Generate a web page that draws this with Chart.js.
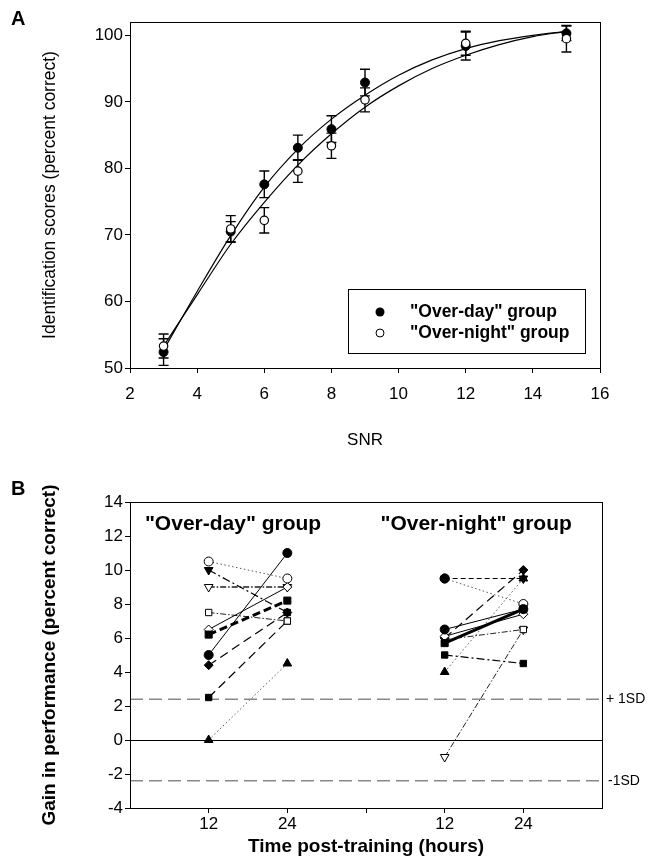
<!DOCTYPE html>
<html>
<head>
<meta charset="utf-8">
<script src="https://cdn.jsdelivr.net/npm/chart.js@4.4.1/dist/chart.umd.min.js"></script>
<style>
body { margin: 0; background: #fff; }
#wrap { position: relative; width: 649px; height: 860px; font-family: "Liberation Sans", Arial, sans-serif; }
#chartA { position: absolute; left: 0; top: 0; }
#chartB { position: absolute; left: 0; top: 455px; }
.panel { position: absolute; left: 11px; font-weight: bold; font-size: 20px; color: #000; }
</style>
</head>
<body>
<div id="wrap">
    <canvas id="chartA" width="649" height="455"></canvas>
    <canvas id="chartB" width="649" height="405"></canvas>
    <div class="panel" style="top:7px">A</div>
    <div class="panel" style="top:477px">B</div>
</div>
<script>
// ---- panel A data ----
const snr = [3, 5, 6, 7, 8, 9, 12, 15];
const overDayScore = [52.4, 70.5, 77.6, 83.1, 85.9, 92.9, 98.4, 100.3];
const overDayErr = [2.0, 1.5, 2.0, 1.9, 2.0, 2.0, 2.1, 1.1];
const overNightScore = [53.3, 70.9, 72.2, 79.6, 83.4, 90.3, 98.8, 99.5];
const overNightErr = [1.8, 2.0, 1.9, 1.7, 1.9, 1.8, 1.8, 2.0];
// fitted curves
const fitSnr = [3, 4, 5, 6, 7, 8, 9, 10, 11, 12, 13, 14, 15];
const fitOverDay = [52.7, 61.5, 69.9, 77.2, 82.9, 87.4, 91.0, 94.0, 96.3, 98.0, 99.2, 100.0, 100.6];
const fitOverNight = [53.3, 61.0, 68.6, 74.9, 80.5, 85.2, 89.2, 92.4, 95.0, 97.0, 98.6, 99.8, 100.6];
const snrTicks = [2, 4, 6, 8, 10, 12, 14, 16];
const scoreTicks = [50, 60, 70, 80, 90, 100];

// ---- panel B data ----
const dayPos = [1, 2];
const nightPos = [4, 5];
const timeTicks = [1, 2, 3, 4, 5];
const timeLabels = ["12", "24", "", "12", "24"];
const gainTicks = [-4, -2, 0, 2, 4, 6, 8, 10, 12, 14];
const sdPlus = 2.4;
const sdMinus = -2.4;

const dayFilledCircle = [5.0, 11.0];
const dayOpenCircle = [10.5, 9.5];
const dayFilledDown = [10.0, 7.5];
const dayOpenDown = [9.0, 9.0];
const dayOpenSquare = [7.5, 7.0];
const dayOpenDiamond = [6.5, 9.0];
const dayFilledDiamond = [4.4, 7.5];
const dayFilledSquare = [2.5, 7.0];
const dayFilledTriangle = [0.0, 4.5];
const dayMean = [6.2, 8.2];

const nightFilledCircle = [6.5, 7.7];
const nightOpenCircle = [9.5, 8.0];
const nightDashed = [9.5, 9.5];
const nightFilledDiamond = [6.0, 10.0];
const nightFilledTriangle = [4.0, 9.5];
const nightOpenDown = [-1.0, 6.5];
const nightOpenSquare = [5.9, 6.5];
const nightFilledSquare = [5.0, 4.5];
const nightOpenDiamond = [6.1, 7.4];
const nightMean = [5.7, 7.7];

const family = '"Liberation Sans", Arial, sans-serif';

function pts(xs, ys) {
    return xs.map((x, i) => ({ x: x, y: ys[i] }));
}
function setTicks(vals) {
    return function (scale) { scale.ticks = vals.map(v => ({ value: v })); };
}

// box round the plot area
const frame = {
    id: "frame",
    afterDraw(chart) {
        const a = chart.chartArea, ctx = chart.ctx;
        ctx.save();
        ctx.strokeStyle = "#000";
        ctx.lineWidth = 1;
        ctx.strokeRect(a.left + 0.5, a.top + 0.5, a.right - a.left, a.bottom - a.top);
        ctx.restore();
    }
};

const errorBarsA = {
    id: "errorBarsA",
    beforeDatasetsDraw(chart) {
        const xs = chart.scales.x, ys = chart.scales.y, ctx = chart.ctx;
        ctx.save();
        ctx.strokeStyle = "#000";
        ctx.lineWidth = 1.4;
        [[overDayScore, overDayErr], [overNightScore, overNightErr]].forEach(([vals, errs]) => {
            vals.forEach((v, i) => {
                let x = xs.getPixelForValue(snr[i]);
                let top = ys.getPixelForValue(v + errs[i]);
                let bot = ys.getPixelForValue(v - errs[i]);
                ctx.beginPath();
                ctx.moveTo(x, top); ctx.lineTo(x, bot);
                ctx.moveTo(x - 5, top); ctx.lineTo(x + 5, top);
                ctx.moveTo(x - 5, bot); ctx.lineTo(x + 5, bot);
                ctx.stroke();
            });
        });
        ctx.restore();
    }
};

const legendA = {
    id: "legendA",
    afterDraw(chart) {
        const a = chart.chartArea, ctx = chart.ctx;
        let right = a.right - 15, bottom = a.bottom - 15;
        let left = right - 237, top = bottom - 64;
        ctx.save();
        ctx.strokeStyle = "#000";
        ctx.lineWidth = 1;
        ctx.strokeRect(left + 0.5, top + 0.5, 237, 64);
        ctx.font = "bold 17.5px " + family;
        ctx.fillStyle = "#000";
        ctx.textBaseline = "middle";
        ctx.fillText('"Over-day" group', left + 62, top + 23);
        ctx.fillText('"Over-night" group', left + 62, top + 44);
        ctx.beginPath();
        ctx.arc(left + 32, top + 23, 4.5, 0, Math.PI * 2);
        ctx.fill();
        ctx.beginPath();
        ctx.arc(left + 32, top + 44, 4, 0, Math.PI * 2);
        ctx.fillStyle = "#fff";
        ctx.fill();
        ctx.stroke();
        ctx.restore();
    }
};

// listed bottom to top, reversed because Chart.js paints the first dataset last
let datasetsA = [
    { data: pts(fitSnr, fitOverDay), borderColor: "#000", borderWidth: 1.2, pointRadius: 0, cubicInterpolationMode: "monotone", fill: false },
    { data: pts(fitSnr, fitOverNight), borderColor: "#000", borderWidth: 1.2, pointRadius: 0, cubicInterpolationMode: "monotone", fill: false },
    { label: '"Over-day" group', data: pts(snr, overDayScore), showLine: false, pointStyle: "circle", pointRadius: 4.5, pointBackgroundColor: "#000", pointBorderColor: "#000" },
    { label: '"Over-night" group', data: pts(snr, overNightScore), showLine: false, pointStyle: "circle", pointRadius: 4.2, pointBackgroundColor: "#fff", pointBorderColor: "#000", pointBorderWidth: 1.2 }
].reverse();

new Chart(document.getElementById("chartA"), {
    type: "line",
    data: { datasets: datasetsA },
    options: {
        responsive: false,
        animation: false,
        devicePixelRatio: 1,
        layout: { padding: { left: 36, right: 49, top: 22, bottom: 0 } },
        plugins: { legend: { display: false }, tooltip: { enabled: false } },
        scales: {
            x: {
                type: "linear", min: 2, max: 16,
                afterBuildTicks: setTicks(snrTicks),
                afterFit: s => { s.height = 87; },
                grid: { drawOnChartArea: false, tickLength: 5, color: "#000" },
                border: { color: "#000" },
                ticks: { color: "#000", font: { size: 17, family: family }, padding: 11, maxRotation: 0 },
                title: { display: true, text: "SNR", color: "#000", font: { size: 17, family: family } }
            },
            y: {
                min: 50, max: 102,
                afterBuildTicks: setTicks(scoreTicks),
                afterFit: s => { s.width = 94; },
                grid: { drawOnChartArea: false, tickLength: 5, color: "#000" },
                border: { color: "#000" },
                ticks: { color: "#000", font: { size: 17, family: family }, padding: 2 },
                title: { display: true, text: "Identification scores (percent correct)", color: "#000", font: { size: 17.5, family: family } }
            }
        }
    },
    plugins: [errorBarsA, frame, legendA]
});

// ---- panel B ----
function subject(xs, ys, shape, filled, dash, width, color, rot) {
    return {
        data: pts(xs, ys),
        borderColor: color,
        borderWidth: width,
        borderDash: dash,
        pointStyle: shape,
        pointRotation: rot || 0,
        pointRadius: shape === "triangle" ? 5 : 4.5,
        pointBackgroundColor: filled ? "#000" : "#fff",
        pointBorderColor: "#000",
        pointBorderWidth: 1,
        fill: false,
        tension: 0,
        clip: false
    };
}

const dotted = [1.5, 2.5];
const dashDot = [6, 2, 1.5, 2];
const longDash = [9, 5];
const longDashDot = [8, 3, 2, 3];

const refLinesB = {
    id: "refLinesB",
    beforeDatasetsDraw(chart) {
        const a = chart.chartArea, ys = chart.scales.y, ctx = chart.ctx;
        ctx.save();
        ctx.strokeStyle = "#000";
        ctx.lineWidth = 1;
        let y0 = Math.round(ys.getPixelForValue(0)) + 0.5;
        ctx.beginPath(); ctx.moveTo(a.left, y0); ctx.lineTo(a.right, y0); ctx.stroke();
        ctx.strokeStyle = "#888";
        ctx.lineWidth = 1.6;
        ctx.setLineDash([13, 6]);
        [sdPlus, sdMinus].forEach(v => {
            let y = ys.getPixelForValue(v);
            ctx.beginPath(); ctx.moveTo(a.left, y); ctx.lineTo(a.right, y); ctx.stroke();
        });
        ctx.restore();
    },
    afterDraw(chart) {
        const a = chart.chartArea, xs = chart.scales.x, ys = chart.scales.y, ctx = chart.ctx;
        ctx.save();
        ctx.fillStyle = "#000";
        ctx.textBaseline = "middle";
        ctx.font = "14px " + family;
        ctx.fillText("+ 1SD", a.right + 4, ys.getPixelForValue(sdPlus));
        ctx.fillText("-1SD", a.right + 6, ys.getPixelForValue(sdMinus));
        ctx.font = "bold 21px " + family;
        ctx.textAlign = "center";
        ctx.fillText('"Over-day" group', xs.getPixelForValue(1.31), a.top + 22);
        ctx.fillText('"Over-night" group', xs.getPixelForValue(4.4), a.top + 22);
        ctx.restore();
    }
};

// first dataset ends up on top
let datasetsB = [
    subject(nightPos, nightFilledCircle, "circle", true, [], 1, "#000"),
    Object.assign(subject(nightPos, nightMean, "rect", true, [], 3, "#000"), { pointRadius: 5 }),
    subject(nightPos, nightOpenDiamond, "rectRot", false, [], 1, "#000"),
    Object.assign(subject(nightPos, nightDashed, "circle", true, [5, 3], 1.2, "#000"), { pointStyle: ["circle", "triangle"], pointRotation: [0, 180], pointRadius: [4.5, 5] }),
    subject(nightPos, nightOpenCircle, "circle", false, dotted, 1, "#555"),
    subject(nightPos, nightFilledDiamond, "rectRot", true, longDash, 1.2, "#000"),
    subject(nightPos, nightOpenSquare, "rect", false, dashDot, 1, "#222"),
    subject(nightPos, nightFilledSquare, "rect", true, longDashDot, 1.2, "#000"),
    subject(nightPos, nightFilledTriangle, "triangle", true, dotted, 1, "#555"),
    subject(nightPos, nightOpenDown, "triangle", false, dashDot, 1, "#222", 180),

    subject(dayPos, dayFilledCircle, "circle", true, [], 1, "#000"),
    Object.assign(subject(dayPos, dayMean, "rect", true, [8, 4], 3, "#000"), { pointRadius: 5 }),
    subject(dayPos, dayOpenCircle, "circle", false, dotted, 1, "#555"),
    subject(dayPos, dayOpenDiamond, "rectRot", false, [], 1, "#000"),
    Object.assign(subject(dayPos, dayFilledDown, "triangle", true, longDashDot, 1.2, "#000", 180), { pointStyle: ["triangle", "rect"], pointRotation: [180, 0], pointRadius: [5, 4.5] }),
    subject(dayPos, dayFilledDiamond, "rectRot", true, longDash, 1.2, "#000"),
    subject(dayPos, dayOpenDown, "triangle", false, dashDot, 2, "#555", 180),
    subject(dayPos, dayOpenSquare, "rect", false, dashDot, 1, "#222"),
    subject(dayPos, dayFilledSquare, "rect", true, longDash, 1.2, "#000"),
    subject(dayPos, dayFilledTriangle, "triangle", true, dotted, 1, "#555")
];

new Chart(document.getElementById("chartB"), {
    type: "line",
    data: { datasets: datasetsB },
    options: {
        responsive: false,
        animation: false,
        devicePixelRatio: 1,
        layout: { padding: { left: 34, right: 47, top: 47, bottom: 0 } },
        plugins: { legend: { display: false }, tooltip: { enabled: false } },
        scales: {
            x: {
                type: "linear", min: 0, max: 6,
                afterBuildTicks: setTicks(timeTicks),
                afterFit: s => { s.height = 52; },
                grid: { drawOnChartArea: false, tickLength: 5, color: "#000" },
                border: { color: "#000" },
                ticks: {
                    color: "#000", font: { size: 17, family: family }, padding: 1, maxRotation: 0,
                    callback: v => timeLabels[timeTicks.indexOf(v)]
                },
                title: { display: true, text: "Time post-training (hours)", color: "#000", font: { size: 19, weight: "bold", family: family }, padding: { top: 0, bottom: 2 } }
            },
            y: {
                min: -4, max: 14,
                afterBuildTicks: setTicks(gainTicks),
                afterFit: s => { s.width = 96; },
                grid: { drawOnChartArea: false, tickLength: 5, color: "#000" },
                border: { color: "#000" },
                ticks: { color: "#000", font: { size: 17, family: family }, padding: 2 },
                title: { display: true, text: "Gain in performance (percent correct)", color: "#000", font: { size: 19, weight: "bold", family: family } }
            }
        }
    },
    plugins: [refLinesB, frame]
});
</script>
</body>
</html>
